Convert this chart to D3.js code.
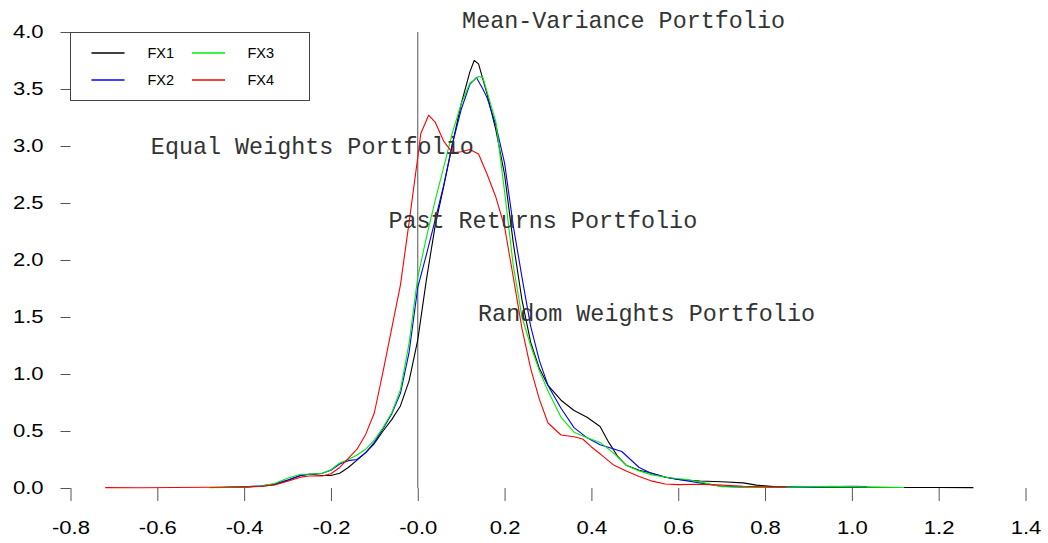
<!DOCTYPE html>
<html>
<head>
<meta charset="utf-8">
<script src="https://cdn.jsdelivr.net/npm/d3@7"></script>
<style>
  html, body { margin: 0; padding: 0; background: #fff; }
  svg { display: block; }
</style>
</head>
<body>
<svg id="chart" width="1048" height="543"></svg>
<script>
// Tick values and labels
const xTicks = [-0.8, -0.6, -0.4, -0.2, 0.0, 0.2, 0.4, 0.6, 0.8, 1.0, 1.2, 1.4];
const xTickLabels = ["-0.8", "-0.6", "-0.4", "-0.2", "-0.0", "0.2", "0.4", "0.6", "0.8", "1.0", "1.2", "1.4"];
const yTicks = [0.0, 0.5, 1.0, 1.5, 2.0, 2.5, 3.0, 3.5, 4.0];
const yTickLabels = ["0.0", "0.5", "1.0", "1.5", "2.0", "2.5", "3.0", "3.5", "4.0"];

// Series names (legend order)
const seriesNames = ["FX1", "FX2", "FX3", "FX4"];

// Density estimates of portfolio returns, one pair of arrays per series
const fx1X = [-0.45, -0.40, -0.36, -0.33, -0.30, -0.27, -0.25, -0.22, -0.20, -0.18, -0.16, -0.14, -0.12, -0.10, -0.08, -0.06, -0.04, -0.02, 0.00, 0.02, 0.04, 0.06, 0.08, 0.10, 0.12, 0.13, 0.14, 0.16, 0.18, 0.20, 0.22, 0.24, 0.26, 0.28, 0.30, 0.33, 0.36, 0.39, 0.42, 0.44, 0.46, 0.48, 0.51, 0.54, 0.57, 0.60, 0.65, 0.70, 0.75, 0.78, 0.82, 0.90, 1.00, 1.10, 1.20, 1.28];
const fx1Y = [0.005, 0.008, 0.015, 0.03, 0.065, 0.11, 0.12, 0.11, 0.11, 0.13, 0.18, 0.245, 0.31, 0.39, 0.50, 0.60, 0.72, 0.94, 1.30, 1.83, 2.30, 2.65, 3.02, 3.37, 3.65, 3.75, 3.72, 3.45, 3.14, 2.75, 2.15, 1.65, 1.28, 1.05, 0.90, 0.77, 0.68, 0.62, 0.54, 0.40, 0.28, 0.20, 0.155, 0.13, 0.097, 0.075, 0.062, 0.055, 0.045, 0.025, 0.012, 0.007, 0.006, 0.005, 0.004, 0.003];

const fx2X = [-0.45, -0.40, -0.36, -0.33, -0.30, -0.27, -0.25, -0.22, -0.20, -0.18, -0.16, -0.14, -0.12, -0.10, -0.08, -0.06, -0.04, -0.02, 0.00, 0.02, 0.04, 0.06, 0.08, 0.10, 0.12, 0.135, 0.15, 0.16, 0.18, 0.20, 0.22, 0.24, 0.26, 0.28, 0.30, 0.33, 0.36, 0.39, 0.42, 0.45, 0.47, 0.49, 0.51, 0.54, 0.57, 0.60, 0.65, 0.70, 0.75, 0.80, 0.90, 0.97, 1.00, 1.035];
const fx2Y = [0.004, 0.01, 0.02, 0.035, 0.07, 0.11, 0.12, 0.13, 0.155, 0.21, 0.24, 0.25, 0.31, 0.40, 0.52, 0.65, 0.83, 1.19, 1.76, 2.05, 2.35, 2.66, 3.02, 3.32, 3.54, 3.60, 3.50, 3.42, 3.18, 2.85, 2.30, 1.85, 1.42, 1.12, 0.90, 0.70, 0.53, 0.44, 0.38, 0.345, 0.32, 0.25, 0.18, 0.125, 0.095, 0.075, 0.045, 0.015, 0.008, 0.006, 0.008, 0.012, 0.014, 0.012];

const fx3X = [-0.48, -0.40, -0.36, -0.33, -0.30, -0.27, -0.25, -0.22, -0.20, -0.18, -0.16, -0.14, -0.12, -0.10, -0.08, -0.06, -0.04, -0.02, 0.00, 0.02, 0.04, 0.06, 0.08, 0.10, 0.12, 0.14, 0.15, 0.16, 0.18, 0.20, 0.22, 0.24, 0.26, 0.28, 0.30, 0.33, 0.36, 0.39, 0.42, 0.45, 0.48, 0.51, 0.54, 0.58, 0.62, 0.66, 0.70, 0.75, 0.80, 0.90, 0.95, 1.00, 1.05, 1.12];
const fx3Y = [0.003, 0.008, 0.018, 0.04, 0.085, 0.12, 0.12, 0.13, 0.16, 0.22, 0.25, 0.29, 0.34, 0.42, 0.53, 0.66, 0.86, 1.27, 1.85, 2.20, 2.52, 2.82, 3.12, 3.37, 3.55, 3.61, 3.60, 3.47, 3.21, 2.60, 1.95, 1.50, 1.25, 1.03, 0.85, 0.62, 0.49, 0.44, 0.40, 0.31, 0.20, 0.15, 0.115, 0.09, 0.075, 0.045, 0.012, 0.006, 0.005, 0.01, 0.014, 0.012, 0.008, 0.005];

const fx4X = [-0.72, -0.64, -0.56, -0.48, -0.40, -0.36, -0.33, -0.30, -0.27, -0.25, -0.22, -0.20, -0.18, -0.16, -0.14, -0.12, -0.10, -0.08, -0.06, -0.04, -0.02, 0.00, 0.007, 0.025, 0.04, 0.06, 0.08, 0.10, 0.12, 0.14, 0.16, 0.18, 0.20, 0.22, 0.24, 0.26, 0.28, 0.30, 0.33, 0.36, 0.38, 0.40, 0.42, 0.45, 0.48, 0.51, 0.54, 0.57, 0.60, 0.65, 0.70, 0.75, 0.80, 0.85];
const fx4Y = [0.003, 0.002, 0.004, 0.006, 0.01, 0.015, 0.026, 0.06, 0.095, 0.105, 0.105, 0.125, 0.18, 0.26, 0.34, 0.47, 0.66, 1.02, 1.40, 1.78, 2.33, 2.90, 3.11, 3.27, 3.21, 3.04, 2.94, 2.95, 2.97, 2.93, 2.75, 2.55, 2.29, 1.85, 1.40, 1.05, 0.78, 0.57, 0.465, 0.45, 0.43, 0.36, 0.30, 0.205, 0.15, 0.10, 0.06, 0.035, 0.03, 0.033, 0.025, 0.015, 0.01, 0.006];

// Annotations placed in data coordinates (centre of the text)
const noteTexts = ["Mean-Variance Portfolio", "Equal Weights Portfolio", "Past Returns Portfolio", "Random Weights Portfolio"];
const noteX = [0.474, -0.243, 0.288, 0.527];
const noteY = [4.09, 2.99, 2.34, 1.52];

const seriesX = [fx1X, fx2X, fx3X, fx4X];
const seriesY = [fx1Y, fx2Y, fx3Y, fx4Y];
const colors = ["#000000", "#0000ff", "#00ee00", "#ff0000"];

const svg = d3.select("#chart");
const W = 1048, H = 543;
svg.append("rect").attr("width", W).attr("height", H).attr("fill", "#fff");

const x = d3.scaleLinear().domain([-0.8, 1.4]).range([70.5, 1025.5]);
const y = d3.scaleLinear().domain([0, 4]).range([488, 32]);

const labelFont = "'Liberation Sans', Arial, Helvetica, sans-serif";
const monoFont = "'Liberation Mono', 'Courier New', Courier, monospace";
const stretch = 1.26;

// Vertical reference line at zero
svg.append("line")
  .attr("x1", x(0)).attr("x2", x(0))
  .attr("y1", y(4)).attr("y2", y(0))
  .attr("stroke", "#555").attr("stroke-width", 1);

// Y axis: ticks only, no spine
const yAxis = d3.axisLeft(y)
  .tickValues(yTicks)
  .tickFormat((d, i) => yTickLabels[i])
  .tickSize(10)
  .tickPadding(17);
const gy = svg.append("g").attr("transform", `translate(${x(-0.8)},0)`).call(yAxis);
gy.select(".domain").remove();
gy.selectAll(".tick line").attr("stroke", "#555");
gy.selectAll(".tick text")
  .attr("font-family", labelFont).attr("font-size", 17.5).attr("fill", "#000")
  .attr("x", function () { return +d3.select(this).attr("x") / stretch; })
  .attr("transform", `scale(${stretch},1)`);

// X axis: ticks only, no spine
const xAxis = d3.axisBottom(x)
  .tickValues(xTicks)
  .tickFormat((d, i) => xTickLabels[i])
  .tickSize(13)
  .tickPadding(21);
const gx = svg.append("g").attr("transform", `translate(0,${y(0)})`).call(xAxis);
gx.select(".domain").remove();
gx.selectAll(".tick line").attr("stroke", "#555");
gx.selectAll(".tick text")
  .attr("font-family", labelFont).attr("font-size", 17.5).attr("fill", "#000")
  .attr("transform", `scale(${stretch},1)`);

// Density curves
const line = d3.line()
  .x(d => x(d[0]))
  .y(d => y(d[1]))
  .curve(d3.curveLinear);

seriesNames.forEach((name, i) => {
  const pts = seriesX[i].map((v, j) => [v, seriesY[i][j]]);
  svg.append("path")
    .datum(pts)
    .attr("d", line)
    .attr("fill", "none")
    .attr("stroke", colors[i])
    .attr("stroke-width", 1.1)
    .attr("stroke-linejoin", "round");
});

// Annotations
noteTexts.forEach((t, i) => {
  svg.append("text")
    .attr("x", x(noteX[i]))
    .attr("y", y(noteY[i]) + 6.7)
    .attr("text-anchor", "middle")
    .attr("font-family", monoFont)
    .attr("font-size", 23.4)
    .attr("fill", "#333")
    .text(t);
});

// Legend
const legend = svg.append("g");
legend.append("rect")
  .attr("x", 70.5).attr("y", 32.5)
  .attr("width", 239).attr("height", 68)
  .attr("fill", "#fff").attr("stroke", "#444").attr("stroke-width", 1);

const legendCols = [[91.5, 147.5], [192, 247.5]];
const legendRows = [53, 80];
const legendOrder = [[0, 0, 0], [1, 0, 1], [2, 1, 0], [3, 1, 1]]; // series, column, row
legendOrder.forEach(([s, c, r]) => {
  const lx = legendCols[c][0], tx = legendCols[c][1], ly = legendRows[r];
  legend.append("line")
    .attr("x1", lx).attr("x2", lx + 33)
    .attr("y1", ly).attr("y2", ly)
    .attr("stroke", colors[s]).attr("stroke-width", 1.4);
  legend.append("text")
    .attr("x", tx).attr("y", ly + 5.3)
    .attr("font-family", labelFont).attr("font-size", 14.5)
    .attr("fill", "#000")
    .text(seriesNames[s]);
});
</script>
</body>
</html>
